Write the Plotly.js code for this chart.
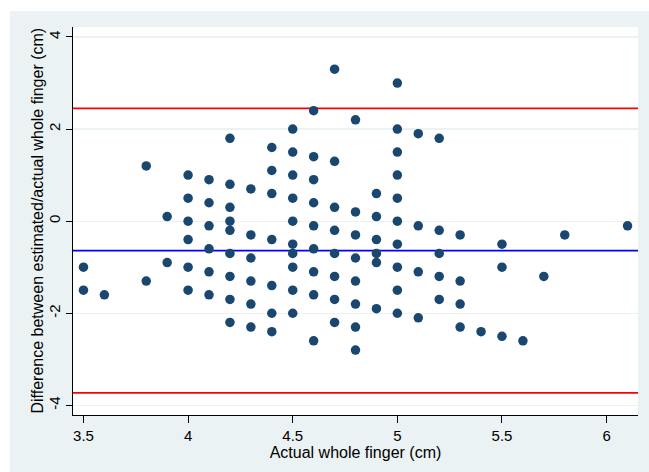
<!DOCTYPE html>
<html>
<head>
<meta charset="utf-8">
<script src="https://cdn.plot.ly/plotly-3.0.1.min.js"></script>
<style>
html, body { margin: 0; padding: 0; background: #ffffff; width: 649px; height: 472px; overflow: hidden; }
#chart { position: absolute; left: 10px; top: 11px; width: 639px; height: 461px; }
</style>
</head>
<body>
<div id="chart"></div>
<script>
// Actual whole finger (cm)
const actual = [
  3.5, 3.5,
  3.6,
  3.8, 3.8,
  3.9, 3.9,
  4.0, 4.0, 4.0, 4.0, 4.0, 4.0,
  4.1, 4.1, 4.1, 4.1, 4.1, 4.1,
  4.2, 4.2, 4.2, 4.2, 4.2, 4.2, 4.2, 4.2, 4.2,
  4.3, 4.3, 4.3, 4.3, 4.3, 4.3,
  4.4, 4.4, 4.4, 4.4, 4.4, 4.4, 4.4,
  4.5, 4.5, 4.5, 4.5, 4.5, 4.5, 4.5, 4.5, 4.5, 4.5,
  4.6, 4.6, 4.6, 4.6, 4.6, 4.6, 4.6, 4.6, 4.6,
  4.7, 4.7, 4.7, 4.7, 4.7, 4.7, 4.7, 4.7,
  4.8, 4.8, 4.8, 4.8, 4.8, 4.8, 4.8, 4.8,
  4.9, 4.9, 4.9, 4.9, 4.9, 4.9,
  5.0, 5.0, 5.0, 5.0, 5.0, 5.0, 5.0, 5.0, 5.0, 5.0,
  5.1, 5.1, 5.1, 5.1,
  5.2, 5.2, 5.2, 5.2, 5.2,
  5.3, 5.3, 5.3, 5.3,
  5.4,
  5.5, 5.5, 5.5,
  5.6,
  5.7,
  5.8,
  6.1
];
// Difference between estimated/actual whole finger (cm)
const difference = [
  -1.0, -1.5,
  -1.6,
  1.2, -1.3,
  0.1, -0.9,
  1.0, 0.5, 0.0, -0.4, -1.0, -1.5,
  0.9, 0.4, -0.1, -0.6, -1.1, -1.6,
  1.8, 0.8, 0.3, 0.0, -0.2, -0.7, -1.2, -1.7, -2.2,
  0.7, -0.3, -0.8, -1.3, -1.8, -2.3,
  1.6, 1.1, 0.6, -0.4, -1.4, -2.0, -2.4,
  2.0, 1.5, 1.0, 0.5, 0.0, -0.5, -0.7, -1.0, -1.5, -2.0,
  2.4, 1.4, 0.9, 0.4, -0.1, -0.6, -1.1, -1.6, -2.6,
  3.3, 1.3, 0.3, -0.2, -0.7, -1.2, -1.7, -2.2,
  2.2, 0.2, -0.3, -0.8, -1.3, -1.8, -2.3, -2.8,
  0.6, 0.1, -0.4, -0.7, -0.9, -1.9,
  3.0, 2.0, 1.5, 1.0, 0.5, 0.0, -0.5, -1.0, -1.5, -2.0,
  1.9, -0.1, -1.1, -2.1,
  1.8, -0.2, -0.7, -1.2, -1.7,
  -0.3, -1.3, -1.8, -2.3,
  -2.4,
  -0.5, -1.0, -2.5,
  -2.6,
  -1.2,
  -0.3,
  -0.1
];
// Reference lines: mean difference and limits of agreement
const meanDiff = -0.64;
const limits = [2.45, -3.73];

const xTicks = [3.5, 4, 4.5, 5, 5.5, 6];
const xTickText = ['3.5', '4', '4.5', '5', '5.5', '6'];
const yTicks = [-4, -2, 0, 2, 4];
const yTickText = ['-4', '-2', '0', '2', '4'];
const xTitle = 'Actual whole finger (cm)';
const yTitle = 'Difference between estimated/actual whole finger (cm)';

const shapes = [];
limits.forEach(v => shapes.push({
  type: 'line', xref: 'paper', yref: 'y', x0: 0, x1: 1, y0: v, y1: v,
  line: { color: '#ff0000', width: 1.6 }, layer: 'below'
}));
shapes.push({
  type: 'line', xref: 'paper', yref: 'y', x0: 0, x1: 1, y0: meanDiff, y1: meanDiff,
  line: { color: '#0000ff', width: 1.6 }, layer: 'below'
});

const trace = {
  type: 'scatter', mode: 'markers',
  x: actual, y: difference,
  marker: { size: 9.5, color: '#1a476f', line: { width: 0 } },
  hoverinfo: 'x+y'
};

const fam = 'Liberation Sans, Arial, sans-serif';

const layout = {
  width: 639, height: 461,
  paper_bgcolor: '#eaf2f3',
  plot_bgcolor: '#ffffff',
  margin: { l: 63, r: 11, t: 16, b: 57, pad: 0 },
  showlegend: false,
  font: { family: fam, color: '#000000' },
  shapes: shapes,
  annotations: [{
    text: yTitle, xref: 'paper', yref: 'paper', x: 0, y: 0.5,
    xanchor: 'center', yanchor: 'middle', xshift: -36.5, textangle: -90,
    showarrow: false, font: { family: fam, size: 16, color: '#000000' }
  }],
  xaxis: {
    range: [3.45, 6.15],
    tickvals: xTicks, ticktext: xTickText,
    showgrid: false, zeroline: false,
    showline: true, linecolor: '#000000', linewidth: 1,
    ticks: 'outside', ticklen: 7, tickwidth: 1, tickcolor: '#000000',
    tickfont: { family: fam, size: 15, color: '#000000' },
    title: { text: xTitle, font: { family: fam, size: 16, color: '#000000' }, standoff: 1 }
  },
  yaxis: {
    range: [-4.21, 4.217],
    tickvals: yTicks, ticktext: yTickText,
    tickangle: -90,
    ticklabelstandoff: 0,
    showgrid: true, gridcolor: '#eaf2f3', gridwidth: 1.2,
    zeroline: false,
    showline: true, linecolor: '#000000', linewidth: 1,
    ticks: 'outside', ticklen: 6, tickwidth: 1, tickcolor: '#000000',
    tickfont: { family: fam, size: 15, color: '#000000' }
  }
};

Plotly.newPlot('chart', [trace], layout, { displayModeBar: false, staticPlot: true });
</script>
</body>
</html>
